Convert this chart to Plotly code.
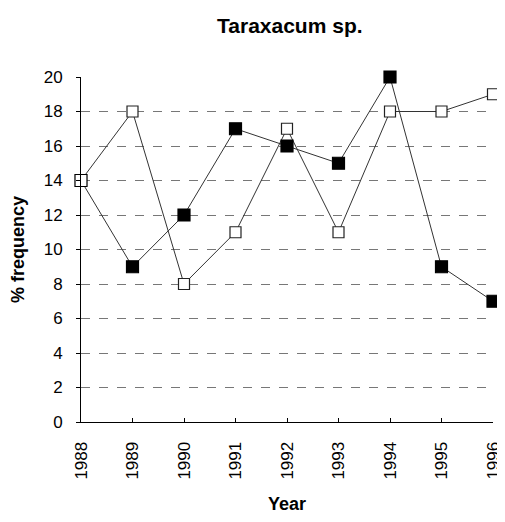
import plotly.graph_objects as go

years = [1988, 1989, 1990, 1991, 1992, 1993, 1994, 1995, 1996]
filled_vals = [14, 9, 12, 17, 16, 15, 20, 9, 7]
open_vals = [14, 18, 8, 11, 17, 11, 18, 18, 19]
y_ticks = [0, 2, 4, 6, 8, 10, 12, 14, 16, 18, 20]

FONT = "Liberation Sans, Arial, sans-serif"

fig = go.Figure()
fig.add_trace(go.Scatter(
    x=years, y=open_vals, mode="lines+markers",
    line=dict(color="#333333", width=1),
    marker=dict(symbol="square", size=11, color="white",
                line=dict(color="#222222", width=1.2)),
    cliponaxis=False, showlegend=False))
fig.add_trace(go.Scatter(
    x=years, y=filled_vals, mode="lines+markers",
    line=dict(color="#333333", width=1),
    marker=dict(symbol="square", size=12,
                color=["white"] + ["black"] * (len(years) - 1),
                line=dict(color="black", width=1.2)),
    cliponaxis=False, showlegend=False))

fig.update_layout(
    width=497, height=506,
    margin=dict(l=73, r=12, t=69, b=92),
    paper_bgcolor="white", plot_bgcolor="white",
    font=dict(family=FONT, size=17, color="black"),
    title=dict(text="<b>Taraxacum sp.</b>", x=0.567, xanchor="center",
               y=0.966, yanchor="middle", font=dict(size=21)),
    xaxis=dict(
        range=[1988, 1996], tickmode="array", tickvals=years,
        ticktext=[str(y) for y in years], tickangle=-90,
        showgrid=False, zeroline=False, automargin=False,
        showline=True, linecolor="black", linewidth=1,
        ticks="inside", ticklen=4, tickcolor="black",
        ticklabelstandoff=12,
        tickfont=dict(size=17),
        title=dict(text="<b>Year</b>", font=dict(size=18), standoff=20)),
    yaxis=dict(
        range=[0, 20], tickmode="array", tickvals=y_ticks,
        showgrid=True, gridcolor="#777777", griddash="dash", gridwidth=1,
        zeroline=False, automargin=False,
        showline=True, linecolor="black", linewidth=1,
        ticks="outside", ticklen=4, tickcolor="black",
        ticklabelstandoff=10,
        tickfont=dict(size=17),
        title=dict(text="<b>% frequency</b>", font=dict(size=18), standoff=16)),
)

fig.write_html("out.html")
